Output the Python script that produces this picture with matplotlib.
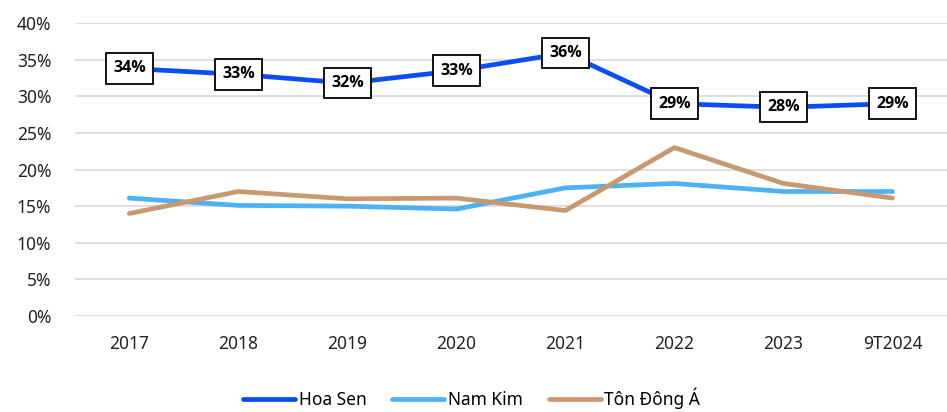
import matplotlib.pyplot as plt
import matplotlib as mp
from matplotlib.ticker import PercentFormatter

mp.rcParams.update({'font.size': 12.5, 'font.family': ['Noto Sans', 'DejaVu Sans']})

years = ['2017', '2018', '2019', '2020', '2021', '2022', '2023', '9T2024']
hoa_sen = [33.8, 33.0, 31.8, 33.5, 35.9, 29.0, 28.5, 29.0]
hoa_sen_labels = ['34%', '33%', '32%', '33%', '36%', '29%', '28%', '29%']
nam_kim = [16.1, 15.1, 15.0, 14.6, 17.5, 18.1, 17.0, 17.0]
ton_dong_a = [14.0, 17.0, 16.0, 16.1, 14.4, 23.0, 18.1, 16.1]

c_hoa_sen = '#0A4DF5'
c_nam_kim = '#4DB1F5'
c_ton = '#C8996F'

fig = plt.figure(figsize=(9.47, 4.12), dpi=100, facecolor='w')
ax = fig.add_axes([0.079, 0.233, 0.921, 0.711])

x = list(range(len(years)))

# Lines #
ax.plot(x, hoa_sen, color=c_hoa_sen, linewidth=3.4, solid_capstyle='round', label='Hoa Sen', zorder=3)
ax.plot(x, nam_kim, color=c_nam_kim, linewidth=3.4, solid_capstyle='round', label='Nam Kim', zorder=3)
ax.plot(x, ton_dong_a, color=c_ton, linewidth=3.4, solid_capstyle='round', label='Tôn Đông Á', zorder=3)

# Data labels #
for xi, yi, lab in zip(x, hoa_sen, hoa_sen_labels):
    ax.text(xi, yi, lab, ha='center', va='center', fontsize=11.5, fontweight='bold',
            family=['Open Sans', 'DejaVu Sans'], zorder=5,
            bbox={'facecolor': 'white', 'edgecolor': 'black', 'linewidth': 1.3, 'boxstyle': 'square,pad=0.45'})

# Axes #
ax.set_xlim(-0.5, len(years) - 0.5)
ax.set_ylim(0, 40)
ax.set_yticks(range(0, 41, 5))
ax.yaxis.set_major_formatter(PercentFormatter(decimals=0))
ax.set_xticks(x)
ax.set_xticklabels(years)
ax.tick_params(axis='both', length=0, colors='#222222')
ax.tick_params(axis='x', pad=14)
ax.tick_params(axis='y', pad=17)
ax.grid(axis='y', color='#D9D9D9', linewidth=1.2)
ax.set_axisbelow(True)
for s in ax.spines.values():
    s.set_visible(False)

fig.legend(loc='center', bbox_to_anchor=(0.498, 0.034), ncol=3, frameon=False,
           handlelength=3.0, handletextpad=0.2, columnspacing=1.5, fontsize=12.5)

plt.savefig('out.png', dpi=100)
plt.close()
